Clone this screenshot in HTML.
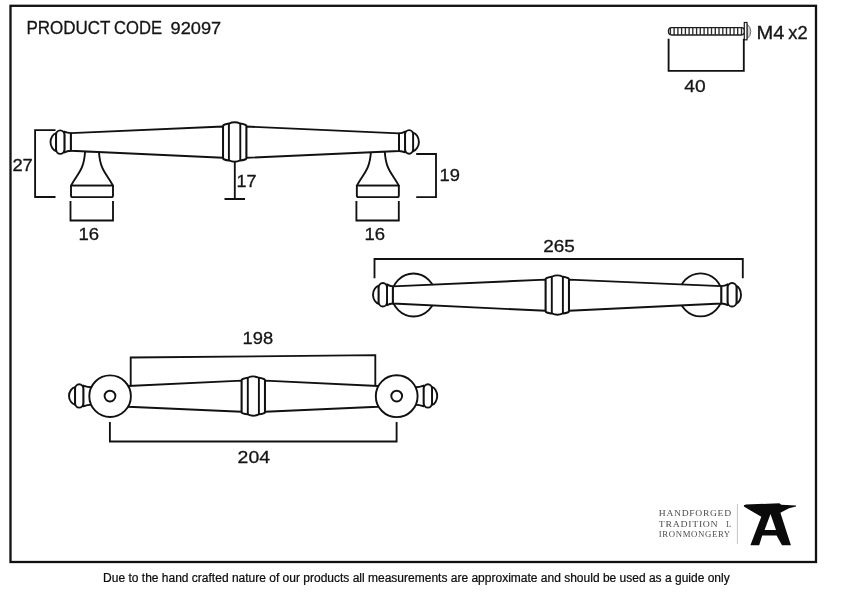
<!DOCTYPE html>
<html>
<head>
<meta charset="utf-8">
<title>Product Code 92097</title>
<style>
html,body{margin:0;padding:0;background:#fff;}
body{width:842px;height:596px;overflow:hidden;font-family:"Liberation Sans",sans-serif;}
svg{display:block;position:absolute;left:0;top:0;will-change:transform;}
.ln{fill:none;stroke:#111;stroke-width:1.9;stroke-linejoin:round;stroke-linecap:butt;}
.sh{fill:#fff;stroke:#111;stroke-width:1.9;stroke-linejoin:round;}
.dim{fill:none;stroke:#111;stroke-width:1.85;stroke-linejoin:miter;stroke-linecap:butt;}
.lbl{font-family:"Liberation Sans",sans-serif;font-size:17.2px;fill:#151515;stroke:#151515;stroke-width:0.3;}
.cap{font-size:18.4px;}
.logo{font-family:"Liberation Serif",serif;font-size:8.4px;fill:#4e4e4e;letter-spacing:0.6px;}
.foot{font-family:"Liberation Sans",sans-serif;font-size:12px;fill:#0c0c0c;stroke:#0c0c0c;stroke-width:0.22;}
</style>
</head>
<body>
<svg width="842" height="596" viewBox="0 0 842 596">
<rect x="0" y="0" width="842" height="596" fill="#fff"/>
<!-- frame -->
<rect x="10.5" y="5.8" width="805.5" height="556.2" fill="none" stroke="#111" stroke-width="2.3"/>

<!-- header text -->
<text class="lbl cap" x="26.4" y="34.4" textLength="84.1" lengthAdjust="spacingAndGlyphs">PRODUCT</text>
<text class="lbl cap" x="114.1" y="34.4" textLength="48" lengthAdjust="spacingAndGlyphs">CODE</text>
<text class="lbl" x="170.5" y="34.4" textLength="50.7" lengthAdjust="spacingAndGlyphs">92097</text>

<!-- screw -->
<g id="screw">
  <rect x="668.5" y="27.6" width="76" height="7.4" rx="3.2" ry="3.4" fill="#fff" stroke="#1c1c1c" stroke-width="1.4"/>
  <path d="M670.4,27.6V35M674.1,27.6V35M677.9,27.6V35M681.6,27.6V35M685.4,27.6V35M689.1,27.6V35M692.8,27.6V35M696.6,27.6V35M700.3,27.6V35M704.1,27.6V35M707.8,27.6V35M711.5,27.6V35M715.3,27.6V35M719.0,27.6V35M722.8,27.6V35M726.5,27.6V35M730.2,27.6V35M734.0,27.6V35M737.7,27.6V35M741.5,27.6V35" fill="none" stroke="#2a2a2a" stroke-width="1.35"/>
  <path d="M747,24.2 Q750.8,27 750.8,31.4 Q750.8,36.3 747,38.6 Z" fill="#d4d4d4" stroke="#6a6a6a" stroke-width="1"/>
  <rect x="744.3" y="22.5" width="2.7" height="17.3" fill="#fff" stroke="#1c1c1c" stroke-width="1.2"/>
</g>
<path class="dim" d="M668.6,38.7V70.8H743.8V38.7"/>
<text class="lbl" x="684.3" y="91.5" textLength="21.4" lengthAdjust="spacingAndGlyphs">40</text>
<text class="lbl cap" x="756.6" y="38.8" textLength="27.9" lengthAdjust="spacingAndGlyphs">M4</text>
<text class="lbl cap" x="788.3" y="38.8" textLength="19.4" lengthAdjust="spacingAndGlyphs">x2</text>

<!-- ============ side view ============ -->
<g id="side">
  <!-- feet -->
  <path class="sh" d="M85.1,151.3 C83.9,170.2 78.4,172.2 71,185.6 H113 C105.6,172.2 100.1,170.2 98.9,151.3 Z"/>
  <path class="sh" d="M71,185.6 H113 V195.5 Q113,197.1 111.4,197.1 H72.6 Q71,197.1 71,195.5 Z"/>
  <path class="sh" d="M370.95,151.3 C369.75,170.2 364.25,172.2 356.85,185.6 H398.85 C391.45,172.2 385.95,170.2 384.75,151.3 Z"/>
  <path class="sh" d="M356.85,185.6 H398.85 V195.5 Q398.85,197.1 397.25,197.1 H358.45 Q356.85,197.1 356.85,195.5 Z"/>
  <!-- bars -->
  <path class="sh" d="M70.8,133.1 L223.1,126.5 V157.8 L70.8,150.8 Z"/>
  <path class="sh" d="M246.3,126.5 L399.05,133.4 V151 L246.3,157.8 Z"/>
  <!-- centre collar -->
  <path class="sh" d="M223.1,125.6 Q224.3,124.15 228.9,123.55 Q234.7,120.85 240.3,123.55 Q245.1,124.15 246.3,125.6 V158.7 Q245.1,159.85 240.3,160.45 Q234.7,163.15 228.9,160.45 Q224.3,159.85 223.1,158.7 Z"/>
  <path class="ln" d="M228.9,123.55V160.45M240.3,123.55V160.45"/>
  <!-- left finial -->
  <path class="sh" d="M70.8,133.1 Q67.28,132.9 64.4,131.7 V152.5 Q67.28,151 70.8,150.8 Z"/>
  <path class="sh" d="M56.1,133.1 C53.3,133.73 50.5,137.6 50.5,142.1 C50.5,146.6 53.3,150.47 56.1,151.1 Z"/>
  <path class="sh" d="M64.4,134.95 C64.4,132.42 62.53,130.35 60.25,130.35 H60.25 C57.97,130.35 56.1,132.42 56.1,134.95 V149.25 C56.1,151.78 57.97,153.85 60.25,153.85 H60.25 C62.53,153.85 64.4,151.78 64.4,149.25 Z"/>
  <!-- right finial -->
  <path class="sh" d="M399.05,133.4 Q402.38,133.2 405.1,131.5 V152.3 Q402.38,151.2 399.05,151 Z"/>
  <path class="sh" d="M413.1,132.6 C416,133.25 418.9,137.25 418.9,141.9 C418.9,146.55 416,150.55 413.1,151.2 Z"/>
  <path class="sh" d="M405.1,134.7 C405.1,132.17 406.9,130.1 409.1,130.1 H409.1 C411.3,130.1 413.1,132.17 413.1,134.7 V149.1 C413.1,151.63 411.3,153.7 409.1,153.7 H409.1 C406.9,153.7 405.1,151.63 405.1,149.1 Z"/>
</g>
<!-- side view dimensions -->
<path class="dim" d="M55.5,130.1H35.1V197H55.5"/>
<text class="lbl" x="12.4" y="170.9" textLength="20.4" lengthAdjust="spacingAndGlyphs">27</text>
<path class="dim" d="M70.5,201V220.5H113V201"/>
<text class="lbl" x="78.4" y="239.6" textLength="20.6" lengthAdjust="spacingAndGlyphs">16</text>
<path class="dim" d="M356.4,201V220.5H398.8V201"/>
<text class="lbl" x="364.4" y="239.6" textLength="20.6" lengthAdjust="spacingAndGlyphs">16</text>
<path class="dim" d="M234.8,162V199M224.5,199H245"/>
<text class="lbl" x="236.4" y="187" textLength="20" lengthAdjust="spacingAndGlyphs">17</text>
<path class="dim" d="M416.2,154H436V197.1H416.2"/>
<text class="lbl" x="439.5" y="180.7" textLength="20.4" lengthAdjust="spacingAndGlyphs">19</text>

<!-- ============ top view (265) ============ -->
<path class="dim" d="M374.5,278.3V259H742.8V278.3"/>
<text class="lbl" x="543.2" y="251.7" textLength="31.6" lengthAdjust="spacingAndGlyphs">265</text>
<g id="top">
  <circle class="sh" cx="413.5" cy="295" r="21.5"/>
  <circle class="sh" cx="700.6" cy="294.9" r="21.5"/>
  <path class="sh" d="M392.8,286.4 L545.7,279.65 V310.8 L392.8,303.5 Z"/>
  <path class="sh" d="M568.9,279.65 L721.4,286.1 V303.5 L568.9,310.8 Z"/>
  <path class="sh" d="M545.7,278.75 Q546.9,277.35 551.8,276.75 Q557.3,274.05 562.9,276.75 Q567.7,277.35 568.9,278.75 V311.7 Q567.7,312.85 562.9,313.45 Q557.3,316.15 551.8,313.45 Q546.9,312.85 545.7,311.7 Z"/>
  <path class="ln" d="M551.8,276.75V313.45M562.9,276.75V313.45"/>
  <!-- left finial -->
  <path class="sh" d="M392.8,286.4 Q389.61,286.2 387,284.4 V305.2 Q389.61,303.7 392.8,303.5 Z"/>
  <path class="sh" d="M378.7,285.8 C375.85,286.43 373,290.3 373,294.8 C373,299.3 375.85,303.17 378.7,303.8 Z"/>
  <path class="sh" d="M387,287.65 C387,285.12 385.13,283.05 382.85,283.05 H382.85 C380.57,283.05 378.7,285.12 378.7,287.65 V301.95 C378.7,304.48 380.57,306.55 382.85,306.55 H382.85 C385.13,306.55 387,304.48 387,301.95 Z"/>
  <!-- right finial -->
  <path class="sh" d="M721.4,286.1 Q724.87,285.9 727.7,284.35 V305.15 Q724.87,303.7 721.4,303.5 Z"/>
  <path class="sh" d="M736.5,285.95 C738.75,286.57 741,290.35 741,294.75 C741,299.15 738.75,302.93 736.5,303.55 Z"/>
  <path class="sh" d="M727.7,287.6 C727.7,285.07 729.63,283 732,283 H732.2 C734.57,283 736.5,285.07 736.5,287.6 V301.9 C736.5,304.43 734.57,306.5 732.2,306.5 H732 C729.63,306.5 727.7,304.43 727.7,301.9 Z"/>
</g>

<!-- ============ bottom view (198 / 204) ============ -->
<path class="dim" d="M130.7,387V357.5L375.3,355.2V387"/>
<text class="lbl" x="242.6" y="343.5" textLength="30.6" lengthAdjust="spacingAndGlyphs">198</text>
<path class="dim" d="M109.9,422V441.5H396.6V422"/>
<text class="lbl" x="237.6" y="462.7" textLength="32.4" lengthAdjust="spacingAndGlyphs">204</text>
<g id="bottom">
  <!-- left finial -->
  <path class="sh" d="M92,387.3 Q87.22,387.1 83.3,385.55 V406.35 Q87.22,404.8 92,404.6 Z"/>
  <path class="sh" d="M75.1,387.15 C72.05,387.77 69,391.55 69,395.95 C69,400.35 72.05,404.13 75.1,404.75 Z"/>
  <path class="sh" d="M83.3,388.85 C83.3,386.32 81.45,384.25 79.2,384.25 H79.2 C76.94,384.25 75.1,386.32 75.1,388.85 V403.05 C75.1,405.58 76.94,407.65 79.2,407.65 H79.2 C81.45,407.65 83.3,405.58 83.3,403.05 Z"/>
  <!-- right finial -->
  <path class="sh" d="M414.5,387.3 Q419.59,387.1 423.75,385.55 V406.35 Q419.59,404.8 414.5,404.6 Z"/>
  <path class="sh" d="M432,386.95 C434.6,387.58 437.2,391.45 437.2,395.95 C437.2,400.45 434.6,404.32 432,404.95 Z"/>
  <path class="sh" d="M423.75,388.85 C423.75,386.32 425.61,384.25 427.88,384.25 H427.88 C430.14,384.25 432,386.32 432,388.85 V403.05 C432,405.58 430.14,407.65 427.88,407.65 H427.88 C425.61,407.65 423.75,405.58 423.75,403.05 Z"/>
  <!-- bars -->
  <path class="sh" d="M128,385.95 L241.7,380.65 V411.8 L128,406.8 Z"/>
  <path class="sh" d="M264.9,380.65 L378,385.95 V406.8 L264.9,411.8 Z"/>
  <path class="sh" d="M241.7,379.75 Q242.9,378.35 247.8,377.75 Q253.3,375.05 258.9,377.75 Q263.7,378.35 264.9,379.75 V412.7 Q263.7,413.75 258.9,414.35 Q253.3,417.05 247.8,414.35 Q242.9,413.75 241.7,412.7 Z"/>
  <path class="ln" d="M247.8,377.75V414.35M258.9,377.75V414.35"/>
  <!-- roses -->
  <circle class="sh" cx="110.1" cy="396.2" r="20.8"/>
  <circle class="sh" cx="110" cy="396.1" r="5.4"/>
  <circle class="sh" cx="396.7" cy="396.2" r="20.9"/>
  <circle class="sh" cx="396.7" cy="396.1" r="5.4"/>
</g>

<!-- ============ logo ============ -->
<g id="logo">
  <text class="logo" x="658.8" y="516" textLength="73" lengthAdjust="spacingAndGlyphs">HANDFORGED</text>
  <text class="logo" x="658.8" y="526.8" textLength="59.6" lengthAdjust="spacingAndGlyphs">TRADITION</text>
  <text class="logo" x="726" y="526.8">L</text>
  <text class="logo" x="658.8" y="537.3" textLength="72" lengthAdjust="spacingAndGlyphs">IRONMONGERY</text>
  <path d="M737.4,504V544" stroke="#c4c4c4" stroke-width="1" fill="none"/>
  <path fill="#0a0a0a" d="M743.9,505.2 L746,504.6 L779.3,503.2 L781.3,504.7 L796,505.4 L796,506.5 L789,508.3 L780.4,512.8 L790.9,545.2 L782,545.2 L776.6,535.6 L762.2,535.6 L759.2,545.2 L750.4,545.2 L761.3,516.7 L743.9,506.6 Z M770.5,514 L764.6,530 L776,530 Z"/>
</g>

<!-- footer -->
<text class="foot" x="103.1" y="581.8" textLength="626.6" lengthAdjust="spacingAndGlyphs">Due to the hand crafted nature of our products all measurements are approximate and should be used as a guide only</text>
</svg>
</body>
</html>
